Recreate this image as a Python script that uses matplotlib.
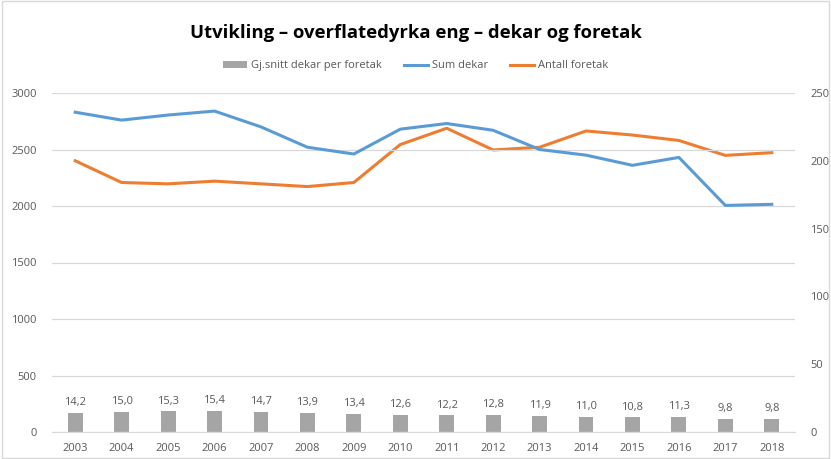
import matplotlib.pyplot as plt
import numpy as np

plt.rcParams['font.family'] = ['Open Sans', 'DejaVu Sans']

years = ['2003', '2004', '2005', '2006', '2007', '2008', '2009', '2010',
         '2011', '2012', '2013', '2014', '2015', '2016', '2017', '2018']
snitt = [14.2, 15.0, 15.3, 15.4, 14.7, 13.9, 13.4, 12.6,
         12.2, 12.8, 11.9, 11.0, 10.8, 11.3, 9.8, 9.8]
sum_dekar = [2830, 2760, 2805, 2840, 2700, 2520, 2460, 2680,
             2730, 2670, 2500, 2450, 2360, 2430, 2005, 2015]
antall = [200, 184, 183, 185, 183, 181, 184, 212,
          224, 208, 210, 222, 219, 215, 204, 206]

blue = '#5B9BD5'
orange = '#ED7D31'
gray = '#A5A5A5'
txt = '#595959'

fig = plt.figure(figsize=(8.31, 4.59), dpi=100)
ax = fig.add_axes([52 / 831, 1 - 432 / 459, 743 / 831, 339 / 459])
ax2 = ax.twinx()

x = np.arange(len(years))

# bars on the right axis
bars = ax2.bar(x, snitt, width=0.32, color=gray, zorder=2, label='Gj.snitt dekar per foretak')
for xi, v in zip(x, snitt):
    ax2.text(xi, v + 3.5, ('%.1f' % v).replace('.', ','), ha='center', va='bottom',
             fontsize=8, color=txt)

l1, = ax.plot(x, sum_dekar, color=blue, lw=2.2, label='Sum dekar', zorder=3)
l2, = ax2.plot(x, antall, color=orange, lw=2.2, label='Antall foretak', zorder=3)

ax.set_zorder(ax2.get_zorder() + 1)
ax.patch.set_visible(False)

ax.set_xlim(-0.5, len(years) - 0.5)
ax.set_ylim(0, 3000)
ax2.set_ylim(0, 250)
ax.set_yticks(range(0, 3001, 500))
ax2.set_yticks(range(0, 251, 50))
ax.set_xticks(x)
ax.set_xticklabels(years)

ax.grid(axis='y', color='#D9D9D9', lw=0.9)
ax.set_axisbelow(True)
for a in (ax, ax2):
    for s in a.spines.values():
        s.set_visible(False)
    a.tick_params(length=0, labelsize=8, colors=txt)
ax.spines['bottom'].set_visible(True)
ax.spines['bottom'].set_color('#D9D9D9')
ax.tick_params(axis='y', pad=11)
ax2.tick_params(axis='y', pad=11)
ax.tick_params(axis='x', pad=8)

fig.text(0.5, 1 - 33 / 459, 'Utvikling – overflatedyrka eng – dekar og foretak',
         ha='center', va='center', fontsize=13.3, fontweight='bold', color='black')

fig.legend(handles=[bars, l1, l2], loc='center', bbox_to_anchor=(0.5, 1 - 66 / 459),
           ncol=3, frameon=False, fontsize=8, labelcolor=txt, handlelength=2.2,
           handletextpad=0.3, columnspacing=2.0)

fig.patches.append(plt.Rectangle((0.003, 0.003), 0.994, 0.994, transform=fig.transFigure,
                                 fill=False, edgecolor='#D9D9D9', lw=1))

fig.savefig('out.png', dpi=100)
